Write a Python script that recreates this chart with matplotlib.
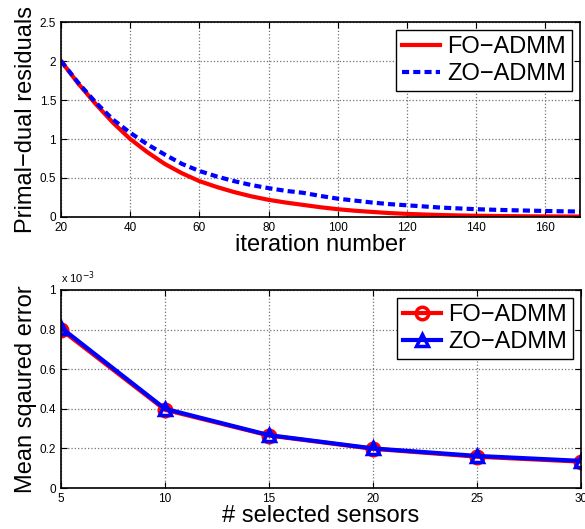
import matplotlib
matplotlib.use("Agg")
import matplotlib.pyplot as plt
from matplotlib.ticker import FuncFormatter

plt.rcParams['font.family'] = ['Liberation Sans', 'DejaVu Sans']

# --- datos ---
iteraciones = [20, 25, 30, 35, 40, 45, 50, 55, 60, 65, 70, 75, 80, 85, 90, 95,
               100, 105, 110, 115, 120, 125, 130, 135, 140, 145, 150, 155, 160, 165, 170]
fo_residuos = [2.0, 1.71, 1.45, 1.21, 1.0, 0.83, 0.68, 0.56, 0.46, 0.385, 0.32, 0.265,
               0.22, 0.185, 0.155, 0.125, 0.10, 0.08, 0.065, 0.05, 0.04, 0.032, 0.025,
               0.02, 0.016, 0.013, 0.011, 0.009, 0.008, 0.007, 0.006]
zo_residuos = [2.0, 1.72, 1.47, 1.25, 1.08, 0.93, 0.80, 0.68, 0.59, 0.52, 0.46, 0.41,
               0.37, 0.335, 0.31, 0.27, 0.235, 0.21, 0.185, 0.165, 0.15, 0.135, 0.12,
               0.11, 0.10, 0.093, 0.087, 0.082, 0.077, 0.073, 0.07]

sensores = [5, 10, 15, 20, 25, 30]
fo_mse = [0.80e-3, 0.395e-3, 0.265e-3, 0.198e-3, 0.158e-3, 0.133e-3]
zo_mse = [0.81e-3, 0.40e-3, 0.267e-3, 0.20e-3, 0.162e-3, 0.137e-3]


def _estilo(ax):
    """Estilo tipo MATLAB: ticks hacia adentro, grilla punteada."""
    ax.tick_params(direction='in', top=True, right=True, labelsize=8.5, length=4, width=0.8)
    ax.grid(True, linestyle=':', color='0.45', linewidth=0.9)
    for s in ax.spines.values():
        s.set_linewidth(1.2)


def _leyenda(ax):
    leg = ax.legend(loc='upper right', fontsize=17, fancybox=False, framealpha=1,
                    edgecolor='black', handlelength=1.6, borderpad=0.25,
                    labelspacing=0.2, handletextpad=0.3, borderaxespad=0.35)
    leg.get_frame().set_linewidth(1.0)


fig = plt.figure(figsize=(5.85, 5.29), dpi=100)

# 1. Residuos primal-dual
ax1 = fig.add_axes([0.1043, 0.5898, 0.887, 0.3686])
ax1.plot(iteraciones, fo_residuos, color='red', lw=3, label='FO\u2212ADMM')
ax1.plot(iteraciones, zo_residuos, color='blue', lw=3, dashes=(1.7, 1.0), label='ZO\u2212ADMM')
ax1.set_xlim(20, 170)
ax1.set_ylim(0, 2.5)
ax1.set_xticks([20, 40, 60, 80, 100, 120, 140, 160])
ax1.set_yticks([0, 0.5, 1, 1.5, 2, 2.5])
ax1.yaxis.set_major_formatter(FuncFormatter(lambda v, p: f"{v:g}"))
ax1.set_xlabel('iteration number', fontsize=17, labelpad=0)
ax1.set_ylabel('Primal\u2212dual residuals', fontsize=17, labelpad=2)
_estilo(ax1)
_leyenda(ax1)

# 2. Error cuadratico medio
ax2 = fig.add_axes([0.1043, 0.0775, 0.889, 0.3743])
ax2.plot(sensores, fo_mse, color='red', lw=3, marker='o', markersize=9,
         markerfacecolor='none', markeredgewidth=2.5, label='FO\u2212ADMM')
ax2.plot(sensores, zo_mse, color='blue', lw=3, marker='^', markersize=9,
         markerfacecolor='none', markeredgewidth=2.5, label='ZO\u2212ADMM')
ax2.set_xlim(5, 30)
ax2.set_ylim(0, 1e-3)
ax2.set_xticks(sensores)
ax2.set_yticks([0, 0.2e-3, 0.4e-3, 0.6e-3, 0.8e-3, 1e-3])
ax2.yaxis.set_major_formatter(FuncFormatter(lambda v, p: f"{v * 1e3:g}"))
ax2.text(0.0, 1.02, 'x 10$^{-3}$', transform=ax2.transAxes, fontsize=8, va='bottom', ha='left')
ax2.set_xlabel('# selected sensors', fontsize=17, labelpad=0)
ax2.set_ylabel('Mean sqaured error', fontsize=17, labelpad=2)
_estilo(ax2)
_leyenda(ax2)

fig.savefig('out.png', dpi=100)
plt.close('all')
